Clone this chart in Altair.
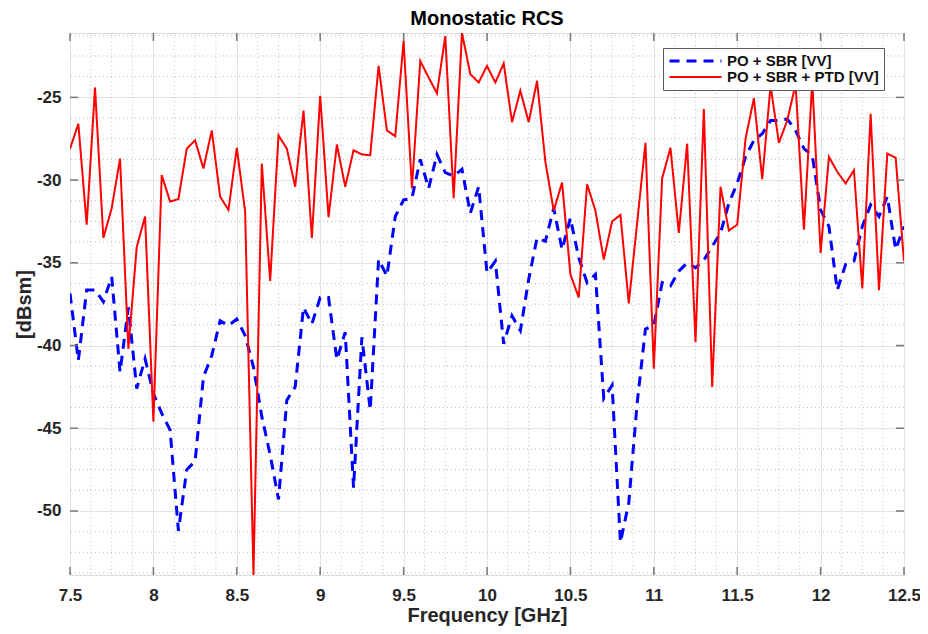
import altair as alt
import pandas as pd

# ---------------- data ----------------
freq_ghz = [round(7.5 + 0.05 * i, 2) for i in range(101)]

po_sbr = [
    -36.85, -40.9, -36.65, -36.65, -37.35, -35.85, -41.6, -37.7, -42.6, -40.8,
    -42.9, -44.1, -45.1, -51.2, -47.5, -47.0, -41.9, -40.6, -38.5, -38.8,
    -38.4, -39.4, -41.3, -44.3, -46.6, -49.3, -43.3, -42.5, -37.7, -38.7,
    -37.1, -37.1, -40.85, -39.2, -48.6, -39.5, -43.9, -34.8, -35.8, -32.2,
    -31.2, -31.1, -28.75, -30.5, -28.45, -29.55, -29.75, -29.35, -32.0, -30.4,
    -35.6, -34.9, -39.9, -38.2, -39.1, -36.0, -33.5, -33.7, -31.7, -34.2,
    -32.3, -34.7, -36.2, -35.7, -43.2, -42.4, -51.9, -49.5, -43.5, -39.0,
    -38.8, -36.2, -36.4, -35.5, -35.0, -35.3, -34.85, -34.0, -33.2, -31.4,
    -30.2, -28.6, -27.6, -27.2, -26.4, -26.4, -26.3, -27.0, -28.1, -28.5,
    -31.8, -32.8, -36.65, -35.1, -34.9, -32.8, -31.5, -32.2, -31.0, -34.2,
    -32.8,
]

po_sbr_ptd = [
    -28.1, -26.6, -32.7, -24.4, -33.5, -31.7, -28.7, -40.2, -34.05, -32.2,
    -44.6, -29.7, -31.3, -31.15, -28.1, -27.6, -29.3, -27.0, -31.0, -31.8,
    -28.05, -31.9, -53.87, -29.0, -36.1, -27.3, -28.1, -30.4, -25.8, -33.5,
    -24.9, -32.25, -27.85, -30.4, -28.2, -28.45, -28.5, -23.1, -27.0, -27.35,
    -21.6, -30.5, -22.8, -23.8, -24.75, -21.3, -31.1, -21.11, -23.6, -24.1,
    -23.1, -24.1, -22.95, -26.5, -24.6, -26.5, -24.0, -28.9, -31.85, -30.15,
    -35.7, -37.1, -30.25, -31.85, -34.8, -32.5, -32.1, -37.45, -32.6, -27.75,
    -41.4, -29.9, -28.05, -33.2, -27.8, -39.8, -25.7, -42.5, -30.4, -33.05,
    -32.7, -27.5, -25.05, -29.95, -24.3, -27.75, -26.4, -24.2, -33.0, -24.0,
    -34.4, -28.6, -29.5, -30.2, -29.4, -36.55, -26.0, -36.65, -28.4, -28.65,
    -34.9,
]

series_names = ["PO + SBR [VV]", "PO + SBR + PTD [VV]"]
series_colors = ["#0000ff", "#ff0000"]

x_domain = [7.5, 12.5]
y_domain = [-53.87, -21.11]
x_major = [7.5, 8.0, 8.5, 9.0, 9.5, 10.0, 10.5, 11.0, 11.5, 12.0, 12.5]
y_major = [-50, -45, -40, -35, -30, -25]
x_minor = [round(m + k * 0.125, 3) for m in x_major[:-1] for k in (1, 2, 3)]
y_minor = [v for v in [round(-55 + k * 1.25, 2) for k in range(28)]
           if y_domain[0] < v < y_domain[1] and v not in y_major]

# ---------------- tables ----------------
lines_df = pd.DataFrame({
    "f": freq_ghz * 2,
    "v": po_sbr + po_sbr_ptd,
    "series": [series_names[0]] * len(freq_ghz) + [series_names[1]] * len(freq_ghz),
})
xmaj_df = pd.DataFrame({"f": x_major})
ymaj_df = pd.DataFrame({"v": y_major})
xmin_df = pd.DataFrame({"f": x_minor})
ymin_df = pd.DataFrame({"v": y_minor})

W, H = 834, 542
FONT = "Liberation Sans"
FRAME = "#767676"
TXT = "#262626"

xscale = alt.Scale(domain=x_domain, nice=False, zero=False)
yscale = alt.Scale(domain=y_domain, nice=False, zero=False)

x_axis = alt.Axis(
    values=x_major, grid=True, gridColor="#e2e2e2", gridWidth=1,
    ticks=False, domain=False, labelExpr="'' + datum.value", labelFlush=False,
    labelFont=FONT, labelFontSize=17, labelFontWeight="bold", labelColor=TXT,
    labelPadding=12, title="Frequency [GHz]", titleFont=FONT, titleFontSize=20,
    titleFontWeight="bold", titleColor=TXT, titlePadding=2,
)
y_axis = alt.Axis(
    values=y_major, grid=True, gridColor="#e2e2e2", gridWidth=1,
    ticks=False, domain=False, labelExpr="'' + datum.value", labelFlush=False,
    labelFont=FONT, labelFontSize=17, labelFontWeight="bold", labelColor=TXT,
    labelPadding=9, title="[dBsm]", titleFont=FONT, titleFontSize=20,
    titleFontWeight="bold", titleColor=TXT, titlePadding=2,
)

X = alt.X("f:Q", scale=xscale, axis=x_axis)
Y = alt.Y("v:Q", scale=yscale, axis=y_axis)

legend = alt.Legend(
    title=None, orient="none", legendX=593, legendY=15,
    symbolType="stroke", symbolSize=2700, clipHeight=16, rowPadding=0,
    labelFont=FONT, labelFontSize=15, labelFontWeight="bold", labelColor="#111111",
    labelOffset=4, fillColor="white", strokeColor="#5a5a5a", padding=5,
)

minor_x = alt.Chart(xmin_df).mark_rule(
    color="#bdbdbd", strokeWidth=1, strokeDash=[1, 3]
).encode(x=X)
minor_y = alt.Chart(ymin_df).mark_rule(
    color="#bdbdbd", strokeWidth=1, strokeDash=[1, 3]
).encode(y=Y)

lines = alt.Chart(lines_df).mark_line(clip=True).encode(
    x=X,
    y=Y,
    color=alt.Color("series:N", scale=alt.Scale(domain=series_names, range=series_colors), legend=legend),
    strokeDash=alt.StrokeDash("series:N", scale=alt.Scale(domain=series_names, range=[[10, 7], [1, 0]]), legend=legend),
    strokeWidth=alt.StrokeWidth("series:N", scale=alt.Scale(domain=series_names, range=[3, 2]), legend=legend),
    order="f:Q",
)

tick_bottom = alt.Chart(xmaj_df).mark_rule(color=FRAME, strokeWidth=1.5).encode(
    x=X, y=alt.value(H), y2=alt.value(H - 8))
tick_top = alt.Chart(xmaj_df).mark_rule(color=FRAME, strokeWidth=1.5).encode(
    x=X, y=alt.value(0), y2=alt.value(8))
tick_left = alt.Chart(ymaj_df).mark_rule(color=FRAME, strokeWidth=1.5).encode(
    y=Y, x=alt.value(0), x2=alt.value(8))
tick_right = alt.Chart(ymaj_df).mark_rule(color=FRAME, strokeWidth=1.5).encode(
    y=Y, x=alt.value(W), x2=alt.value(W - 8))

chart = alt.layer(
    minor_x, minor_y, lines, tick_bottom, tick_top, tick_left, tick_right
).properties(
    width=W, height=H,
    title=alt.Title(
        text="(a)", subtitle="Monostatic RCS", anchor="middle",
        font="Liberation Serif", fontSize=14, fontWeight="normal", color="black",
        subtitleFont=FONT, subtitleFontSize=20, subtitleFontWeight="bold",
        subtitleColor="black", subtitlePadding=4, offset=3,
    ),
    autosize=alt.AutoSizeParams(type="none"),
    padding={"left": 62, "top": 25, "right": 16, "bottom": 51},
).configure_view(
    stroke=FRAME, strokeWidth=1.5
).configure(background="white")

chart.save("out.html", embed_options={"renderer": "svg", "actions": False})
